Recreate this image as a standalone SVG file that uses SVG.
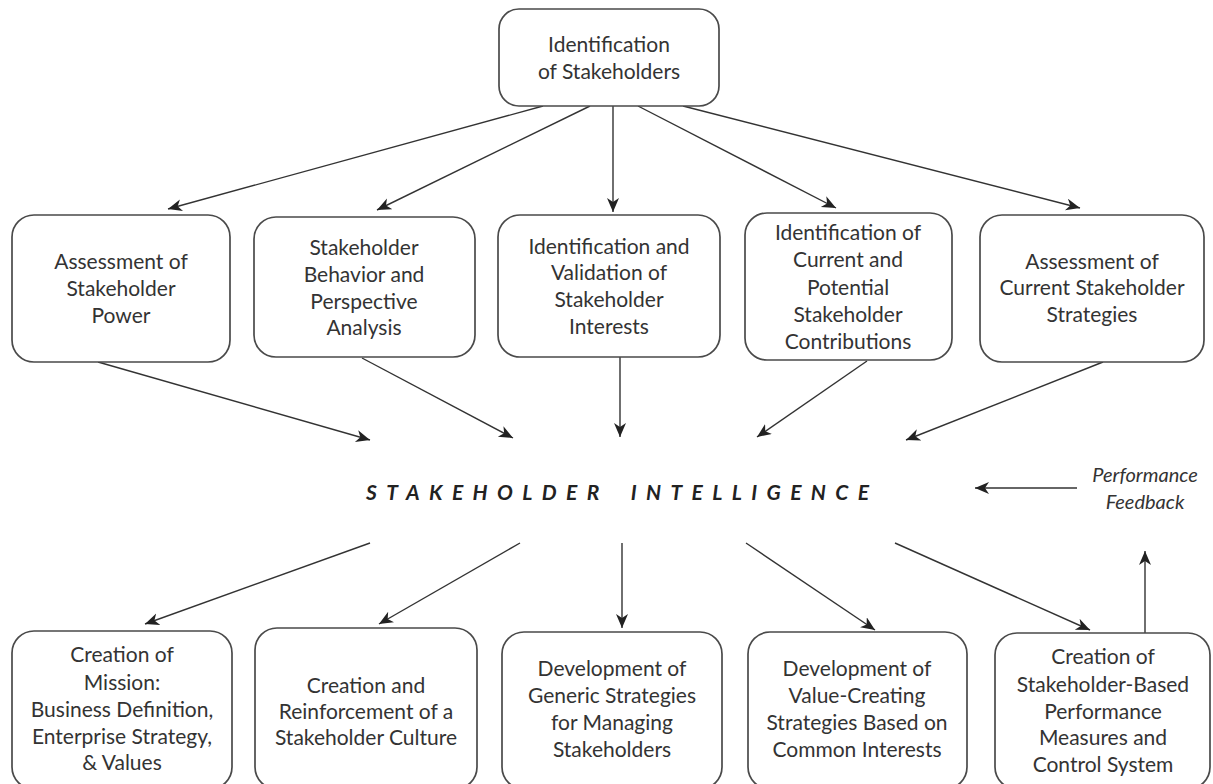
<svg xmlns="http://www.w3.org/2000/svg" width="1213" height="784" viewBox="0 0 1213 784">
<defs>
<marker id="ah" markerUnits="userSpaceOnUse" markerWidth="16" markerHeight="14" refX="14" refY="6" orient="auto">
<path d="M0,0 L14,6 L0,12 L4,6 Z" fill="#222"/>
</marker>
<style>
.box{fill:#fff;stroke:#4a4a4a;stroke-width:1.7}
.t{font-family:Lato,"Liberation Sans",sans-serif;font-size:21px;fill:#333;text-anchor:middle}
.c{stroke:#333;stroke-width:1.4;fill:none;marker-end:url(#ah)}
.it{font-family:Lato,"Liberation Sans",sans-serif;font-size:20px;font-style:italic;fill:#333;text-anchor:middle}
.mid{font-family:Lato,"Liberation Sans",sans-serif;font-size:21px;font-style:italic;font-weight:bold;fill:#222}
</style>
</defs>
<rect width="1213" height="784" fill="#fff"/>

<g id="connectors">
<line class="c" x1="543" y1="106" x2="168" y2="209"/>
<line class="c" x1="590" y1="106" x2="377" y2="210"/>
<line class="c" x1="613" y1="106" x2="613" y2="212"/>
<line class="c" x1="638" y1="106" x2="836" y2="208"/>
<line class="c" x1="683" y1="106" x2="1080" y2="208"/>
<line class="c" x1="98" y1="362" x2="370" y2="440"/>
<line class="c" x1="362" y1="358" x2="513" y2="438"/>
<line class="c" x1="620" y1="357" x2="620" y2="437"/>
<line class="c" x1="867" y1="361" x2="757" y2="437"/>
<line class="c" x1="1103" y1="362" x2="906" y2="440"/>
<line class="c" x1="370" y1="543" x2="145" y2="624"/>
<line class="c" x1="520" y1="543" x2="379" y2="624"/>
<line class="c" x1="622" y1="543" x2="622" y2="628"/>
<line class="c" x1="746" y1="543" x2="875" y2="630"/>
<line class="c" x1="895" y1="543" x2="1090" y2="630"/>
<line class="c" x1="1145" y1="633" x2="1145" y2="551"/>
<line class="c" x1="1077" y1="488" x2="975" y2="488"/>
</g>

<g id="n-top">
<rect class="box" x="499" y="9" width="220" height="97" rx="20"/>
<text class="t" x="609" y="52">Identification</text>
<text class="t" x="609" y="79">of Stakeholders</text>
</g>

<g id="n-power">
<rect class="box" x="12" y="215" width="218" height="147" rx="22"/>
<text class="t" x="121" y="269">Assessment of</text>
<text class="t" x="121" y="296">Stakeholder</text>
<text class="t" x="121" y="323">Power</text>
</g>
<g id="n-behavior">
<rect class="box" x="254" y="217" width="221" height="140" rx="22"/>
<text class="t" x="364" y="255">Stakeholder</text>
<text class="t" x="364" y="282">Behavior and</text>
<text class="t" x="364" y="309">Perspective</text>
<text class="t" x="364" y="335">Analysis</text>
</g>
<g id="n-interests">
<rect class="box" x="498" y="215" width="222" height="142" rx="22"/>
<text class="t" x="609" y="254">Identification and</text>
<text class="t" x="609" y="280">Validation of</text>
<text class="t" x="609" y="307">Stakeholder</text>
<text class="t" x="609" y="334">Interests</text>
</g>
<g id="n-contrib">
<rect class="box" x="745" y="213" width="207" height="147" rx="22"/>
<text class="t" x="848" y="240">Identification of</text>
<text class="t" x="848" y="267">Current and</text>
<text class="t" x="848" y="295">Potential</text>
<text class="t" x="848" y="322">Stakeholder</text>
<text class="t" x="848" y="349">Contributions</text>
</g>
<g id="n-strategies">
<rect class="box" x="980" y="215" width="224" height="147" rx="22"/>
<text class="t" x="1092" y="269">Assessment of</text>
<text class="t" x="1092" y="295">Current Stakeholder</text>
<text class="t" x="1092" y="322">Strategies</text>
</g>

<g id="n-intelligence">
<text class="mid" x="366" y="500" letter-spacing="9" word-spacing="8" textLength="512" lengthAdjust="spacing">STAKEHOLDER INTELLIGENCE</text>
</g>

<g id="n-feedback">
<text class="it" x="1145" y="482">Performance</text>
<text class="it" x="1145" y="509">Feedback</text>
</g>

<g id="n-mission">
<rect class="box" x="12" y="631" width="220" height="158" rx="22"/>
<text class="t" x="122" y="662">Creation of</text>
<text class="t" x="122" y="690">Mission:</text>
<text class="t" x="122" y="717">Business Definition,</text>
<text class="t" x="122" y="744">Enterprise Strategy,</text>
<text class="t" x="122" y="770">&amp; Values</text>
</g>
<g id="n-culture">
<rect class="box" x="255" y="628" width="222" height="161" rx="22"/>
<text class="t" x="366" y="693">Creation and</text>
<text class="t" x="366" y="719">Reinforcement of a</text>
<text class="t" x="366" y="745">Stakeholder Culture</text>
</g>
<g id="n-generic">
<rect class="box" x="502" y="632" width="220" height="157" rx="22"/>
<text class="t" x="612" y="676">Development of</text>
<text class="t" x="612" y="703">Generic Strategies</text>
<text class="t" x="612" y="730">for Managing</text>
<text class="t" x="612" y="757">Stakeholders</text>
</g>
<g id="n-value">
<rect class="box" x="748" y="632" width="219" height="157" rx="22"/>
<text class="t" x="857" y="676">Development of</text>
<text class="t" x="857" y="703">Value-Creating</text>
<text class="t" x="857" y="730">Strategies Based on</text>
<text class="t" x="857" y="757">Common Interests</text>
</g>
<g id="n-measures">
<rect class="box" x="995" y="633" width="215" height="156" rx="22"/>
<text class="t" x="1103" y="664">Creation of</text>
<text class="t" x="1103" y="692">Stakeholder-Based</text>
<text class="t" x="1103" y="719">Performance</text>
<text class="t" x="1103" y="745">Measures and</text>
<text class="t" x="1103" y="772">Control System</text>
</g>
</svg>
